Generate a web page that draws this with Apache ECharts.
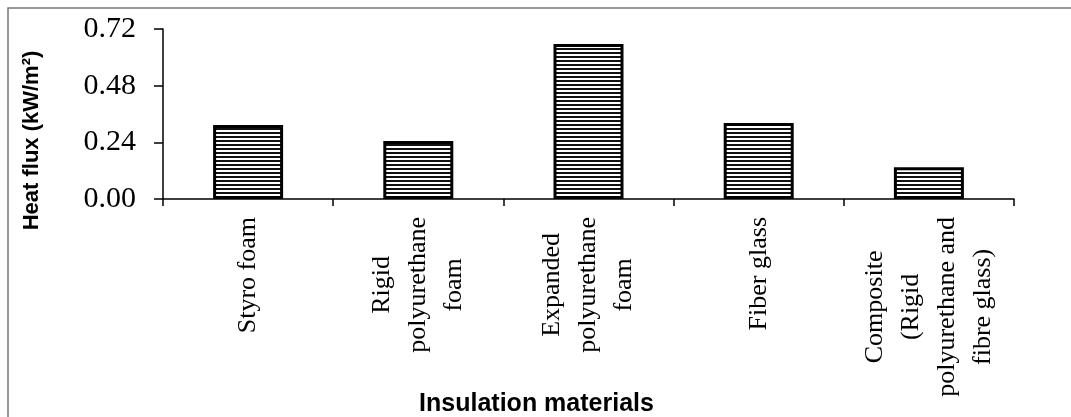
<!DOCTYPE html>
<html>
<head>
<meta charset="utf-8">
<script src="https://cdn.jsdelivr.net/npm/echarts@6/dist/echarts.min.js"></script>
<style>
  html, body { margin: 0; padding: 0; background: #fff; }
  #chart { width: 1071px; height: 417px; }
</style>
</head>
<body>
<div id="chart"></div>
<script>
// categories, one line per label row
var materials = [
  ["Styro foam"],
  ["Rigid", "polyurethane", "foam"],
  ["Expanded", "polyurethane", "foam"],
  ["Fiber glass"],
  ["Composite", "(Rigid", "polyurethane and", "fibre glass)"]
];
// heat flux, kW/m2
var heatFlux = [0.313, 0.246, 0.656, 0.322, 0.135];
var yTicks = [0, 0.24, 0.48, 0.72];

// horizontal stripe fill
function stripes() {
  var c = document.createElement("canvas");
  c.width = 4;
  c.height = 4;
  var ctx = c.getContext("2d");
  ctx.fillStyle = "#fff";
  ctx.fillRect(0, 0, 4, 4);
  ctx.fillStyle = "#111";
  ctx.fillRect(0, 0, 4, 2);
  return c;
}

var chart = echarts.init(document.getElementById("chart"));
chart.setOption({
  animation: false,
  backgroundColor: "#fff",
  graphic: [{
    type: "rect",
    shape: { x: 8, y: 8, width: 1200, height: 500 },
    style: { fill: "none", stroke: "#777", lineWidth: 1.5 },
    silent: true
  }],
  grid: {
    left: 163,
    right: 57,
    top: 29,
    bottom: 218,
    containLabel: false,
    outerBoundsMode: "none"
  },
  xAxis: {
    type: "category",
    data: materials.map(function (m) { return m.join("\n"); }),
    name: "Insulation materials",
    nameLocation: "middle",
    nameGap: 193,
    nameMoveOverlap: false,
    nameTextStyle: {
      fontFamily: "Liberation Sans",
      fontWeight: "bold",
      fontSize: 25,
      color: "#000",
      padding: [0, 104, 0, 0]
    },
    axisLine: { lineStyle: { color: "#000", width: 1.5 } },
    axisTick: { show: true, length: 7, lineStyle: { color: "#000", width: 1.5 } },
    axisLabel: {
      rotate: 90,
      margin: 18,
      interval: 0,
      color: "#000",
      fontFamily: "Liberation Serif",
      fontSize: 26,
      formatter: function (v) { return "{c|" + v + "}"; },
      rich: {
        c: {
          align: "center",
          fontFamily: "Liberation Serif",
          fontSize: 26,
          lineHeight: 36,
          color: "#000"
        }
      }
    },
    splitLine: { show: false }
  },
  yAxis: {
    type: "value",
    min: yTicks[0],
    max: yTicks[yTicks.length - 1],
    interval: yTicks[1] - yTicks[0],
    name: "Heat flux (kW/m²)",
    nameLocation: "middle",
    nameGap: 120,
    nameMoveOverlap: false,
    nameTextStyle: {
      fontFamily: "Liberation Sans",
      fontWeight: "bold",
      fontSize: 22,
      color: "#000",
      padding: [0, 53, 0, 0]
    },
    axisLine: { show: true, lineStyle: { color: "#000", width: 1.5 } },
    axisTick: { show: true, length: 9, lineStyle: { color: "#000", width: 1.5 } },
    axisLabel: {
      margin: 27,
      color: "#000",
      fontFamily: "Liberation Serif",
      fontSize: 30,
      formatter: function (v) { return v.toFixed(2); }
    },
    splitLine: { show: false }
  },
  series: [{
    type: "bar",
    data: heatFlux,
    barWidth: 70,
    itemStyle: {
      color: { image: stripes(), repeat: "repeat" },
      borderColor: "#000",
      borderWidth: 3
    },
    emphasis: { disabled: true }
  }]
});
</script>
</body>
</html>
